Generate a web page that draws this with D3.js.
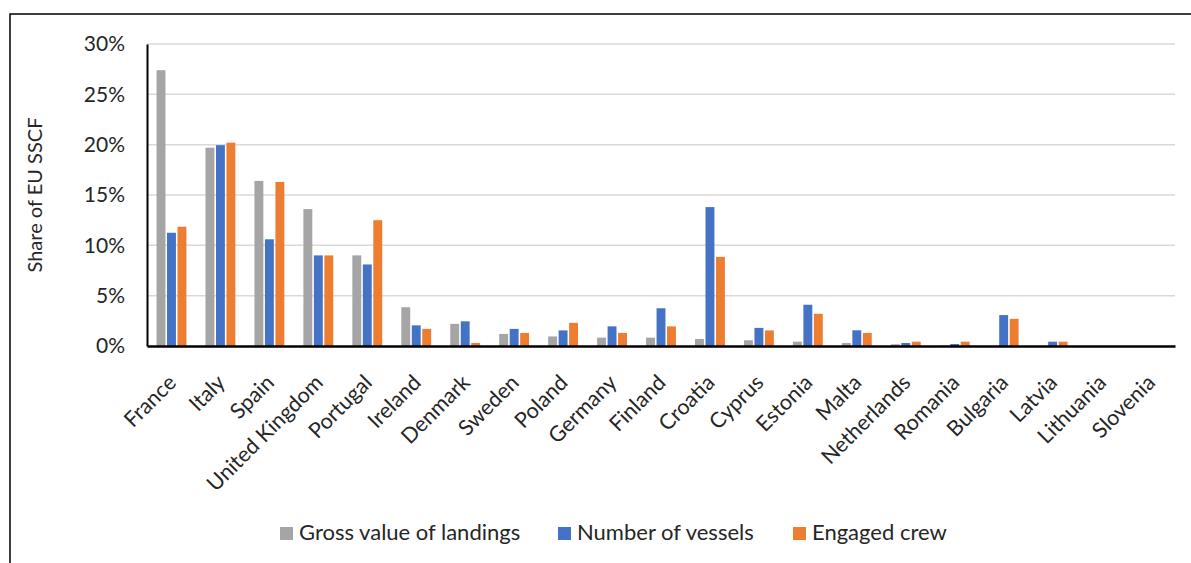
<!DOCTYPE html>
<html>
<head>
<meta charset="utf-8">
<script src="https://cdn.jsdelivr.net/npm/d3@7"></script>
<style>
  body { margin: 0; background: #fff; }
  text { font-family: Lato, "Open Sans", sans-serif; fill: #262626; }
</style>
</head>
<body>
<div id="plotdiv"></div>
<script>
// Data (percent share of EU SSCF)
var countries = ["France", "Italy", "Spain", "United Kingdom", "Portugal", "Ireland",
  "Denmark", "Sweden", "Poland", "Germany", "Finland", "Croatia", "Cyprus", "Estonia",
  "Malta", "Netherlands", "Romania", "Bulgaria", "Latvia", "Lithuania", "Slovenia"];
var grossValue = [27.4, 19.7, 16.4, 13.6, 9.0, 3.85, 2.2, 1.2, 0.95, 0.83, 0.83, 0.7,
  0.57, 0.43, 0.3, 0.17, 0.05, 0.0, 0.0, 0.0, 0.0];
var vessels = [11.25, 19.95, 10.6, 9.0, 8.1, 2.05, 2.45, 1.7, 1.55, 1.95, 3.75, 13.8,
  1.8, 4.1, 1.56, 0.3, 0.2, 3.07, 0.43, 0.0, 0.0];
var crew = [11.85, 20.2, 16.3, 9.0, 12.5, 1.7, 0.3, 1.3, 2.3, 1.3, 1.95, 8.85,
  1.55, 3.2, 1.3, 0.43, 0.43, 2.7, 0.43, 0.0, 0.0];
var seriesNames = ["Gross value of landings", "Number of vessels", "Engaged crew"];
var seriesColours = ["#a5a5a5", "#4472c4", "#ed7d31"];
var ticksY = [0, 5, 10, 15, 20, 25, 30];

var outerWidth = 1191;
var outerHeight = 563;
var plot = { left: 147, top: 44, right: 1175, bottom: 346 };

var vis = d3.select("#plotdiv").append("svg")
  .attr("width", outerWidth)
  .attr("height", outerHeight);

// Chart frame (runs off the right and bottom edges)
vis.append("rect")
  .attr("x", 10).attr("y", 14)
  .attr("width", 1200).attr("height", 600)
  .attr("fill", "none")
  .attr("stroke", "#000")
  .attr("stroke-width", 1.5);

var xScale = d3.scaleBand()
  .domain(countries)
  .range([plot.left, plot.right])
  .paddingInner(0.39)
  .paddingOuter(0.195);
var subScale = d3.scaleBand()
  .domain([0, 1, 2])
  .range([0, xScale.bandwidth()])
  .paddingInner(0.15);
var yScale = d3.scaleLinear()
  .domain([0, 30])
  .range([plot.bottom, plot.top]);

// Gridlines
vis.append("g").selectAll("line").data(ticksY.slice(1)).enter().append("line")
  .attr("x1", plot.left).attr("x2", plot.right)
  .attr("y1", function (d) { return yScale(d); })
  .attr("y2", function (d) { return yScale(d); })
  .attr("stroke", "#d9d9d9")
  .attr("stroke-width", 1.5);

// Bars
var series = [grossValue, vessels, crew];
var gBars = vis.append("g");
series.forEach(function (vals, s) {
  gBars.selectAll("rect.s" + s).data(vals).enter().append("rect")
    .attr("class", "s" + s)
    .attr("x", function (d, i) { return xScale(countries[i]) + subScale(s); })
    .attr("width", subScale.bandwidth())
    .attr("y", function (d) { return yScale(d); })
    .attr("height", function (d) { return plot.bottom - yScale(d); })
    .attr("fill", seriesColours[s]);
});

// Y axis
var axisY = d3.axisLeft(yScale)
  .tickValues(ticksY)
  .tickSize(0)
  .tickPadding(22)
  .tickFormat(function (d) { return d + "%"; });
var gAxisY = vis.append("g")
  .attr("transform", "translate(" + plot.left + ",0)")
  .call(axisY);
gAxisY.select(".domain").attr("stroke", "#000").attr("stroke-width", 2);
gAxisY.selectAll("text")
  .attr("font-size", 21)
  .style("font-family", "Lato, sans-serif")
  .attr("fill", "#262626");

// X axis
var axisX = d3.axisBottom(xScale).tickSize(0).tickSizeOuter(0);
var gAxisX = vis.append("g")
  .attr("transform", "translate(0," + plot.bottom + ")")
  .call(axisX);
gAxisX.select(".domain").attr("stroke", "#000").attr("stroke-width", 2.5);
gAxisX.selectAll("text")
  .attr("font-size", 21.5)
  .style("font-family", "Lato, sans-serif")
  .attr("fill", "#262626")
  .attr("text-anchor", "end")
  .attr("dy", 0)
  .attr("y", 0)
  .attr("transform", "translate(6,38) rotate(-45)");

// Y axis title
vis.append("text")
  .attr("transform", "translate(42," + (plot.top + plot.bottom) / 2 + ") rotate(-90)")
  .attr("text-anchor", "middle")
  .attr("font-size", 20)
  .text("Share of EU SSCF");

// Legend
var legendX = [280, 558, 793];
var gLegend = vis.append("g");
seriesNames.forEach(function (name, s) {
  gLegend.append("rect")
    .attr("x", legendX[s]).attr("y", 527)
    .attr("width", 13).attr("height", 13)
    .attr("fill", seriesColours[s]);
  gLegend.append("text")
    .attr("x", legendX[s] + 19).attr("y", 540)
    .attr("font-size", 22)
    .text(name);
});
</script>
</body>
</html>
